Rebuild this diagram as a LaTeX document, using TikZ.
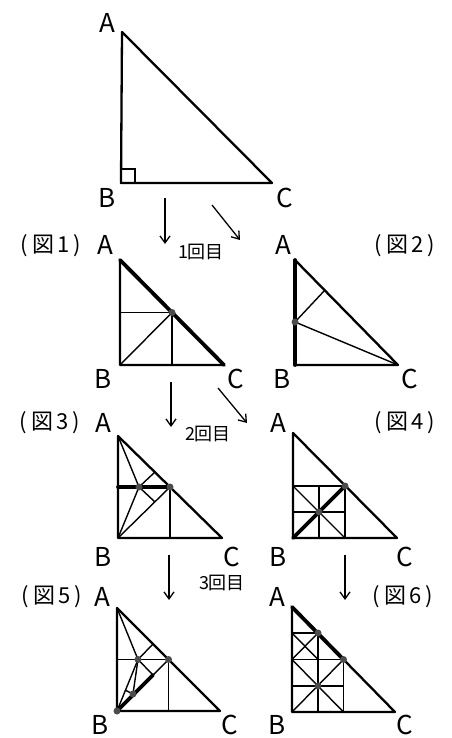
\documentclass[tikz,border=0pt]{standalone}
\usepackage{fontspec}
\setmainfont{Noto Sans CJK JP}
\usetikzlibrary{arrows.meta,calc}

\begin{document}
\begin{tikzpicture}[x=1pt,y=-1pt,>={Straight Barb[length=7pt,width=10pt]},
  outline/.style={line width=2.3pt,line join=round},
  crease/.style={line width=1.4pt},
  fold/.style={line width=3.8pt,line cap=round},
  go/.style={line width=1.3pt,->},
  dot/.style={fill=black!70},
  lab/.style={font=\fontsize{26}{26}\selectfont,inner sep=0pt},
  fig/.style={font=\fontsize{22}{22}\selectfont,inner sep=0pt},
  turn/.style={font=\fontsize{18}{18}\selectfont,inner sep=0pt}]
  \useasboundingbox (0,0) rectangle (451,738);

  % original triangle
  \coordinate (A0) at (122,32);
  \coordinate (B0) at (121,183);
  \coordinate (C0) at (272,183);
  \draw[outline] (A0) -- (B0) -- (C0) -- cycle;
  \draw[crease] (121,169) -- (135,169) -- (135,183);
  \node[lab] (a0) at (107,23) {A};
  \node[lab] (b0) at (107,198) {B};
  \node[lab] (c0) at (285,198) {C};

  % first fold
  \coordinate (s1) at (165,198); \coordinate (e1) at (165,244);
  \coordinate (s2) at (212,205); \coordinate (e2) at (240,240);
  \draw[go] (s1) -- (e1);
  \draw[go] (s2) -- (e2);
  \node[turn] (t1) at (201,252) {1回目};

  % fig 1
  \coordinate (A1) at (120,260);
  \coordinate (B1) at (120,365);
  \coordinate (C1) at (224,365);
  \coordinate (M1) at ($(A1)!0.5!(C1)$);
  \coordinate (P1) at (120,312.5);
  \coordinate (Q1) at (172,365);
  \draw[crease] (P1) -- (M1) -- (Q1);
  \draw[crease] (B1) -- (M1);
  \draw[outline] (A1) -- (B1) -- (C1) -- cycle;
  \draw[fold] (A1) -- (C1);
  \fill[dot] (M1) circle (3.5pt);
  \node[fig] (f1) at (51,246) {(\,図\,1\,)};
  \node[lab] (a1) at (105,245) {A};
  \node[lab] (b1) at (103,379) {B};
  \node[lab] (c1) at (236,379) {C};

  % fig 2
  \coordinate (A2) at (295,260);
  \coordinate (B2) at (295,365);
  \coordinate (C2) at (398,365);
  \coordinate (D2) at (295,322);
  \coordinate (H2) at (325,290);
  \draw[crease] (D2) -- (C2);
  \draw[crease] (D2) -- (H2);
  \draw[outline] (A2) -- (B2) -- (C2) -- cycle;
  \draw[fold] (A2) -- (B2);
  \fill[dot] (D2) circle (3.5pt);
  \node[fig] (f2) at (405,246) {(\,図\,2\,)};
  \node[lab] (a2) at (283,245) {A};
  \node[lab] (b2) at (282,379) {B};
  \node[lab] (c2) at (410,379) {C};

  % second fold
  \coordinate (s3) at (171,382); \coordinate (e3) at (171,427);
  \coordinate (s4) at (218,388); \coordinate (e4) at (247,423);
  \draw[go] (s3) -- (e3);
  \draw[go] (s4) -- (e4);
  \node[turn] (t2) at (208,434) {2回目};

  % fig 3
  \coordinate (A3) at (118,436);
  \coordinate (B3) at (118,538);
  \coordinate (C3) at (222,538);
  \coordinate (M3) at (170,487);
  \coordinate (P3) at (118,487);
  \coordinate (Q3) at (170,538);
  \coordinate (E3) at (139,487);
  \coordinate (K3) at (155,472);
  \coordinate (G3) at (155,502);
  \draw[crease] (M3) -- (Q3);
  \draw[crease] (B3) -- (M3);
  \draw[crease] (A3) -- (E3) -- (B3);
  \draw[crease] (K3) -- (E3) -- (G3);
  \draw[outline] (A3) -- (B3) -- (C3) -- cycle;
  \draw[fold] (P3) -- (M3);
  \fill[dot] (E3) circle (3.5pt);
  \fill[dot] (M3) circle (3.5pt);
  \node[fig] (f3) at (50,423) {(\,図\,3\,)};
  \node[lab] (a3) at (103,423) {A};
  \node[lab] (b3) at (103,557) {B};
  \node[lab] (c3) at (232,557) {C};

  % fig 4
  \coordinate (A4) at (293,433);
  \coordinate (B4) at (293,538);
  \coordinate (C4) at (397,538);
  \coordinate (M4) at (345,486);
  \coordinate (P4) at (293,486);
  \coordinate (Q4) at (345,538);
  \coordinate (O4) at (319,512);
  \draw[crease] (P4) -- (M4) -- (Q4);
  \draw[crease] (P4) -- (Q4);
  \draw[crease] (319,486) -- (319,538);
  \draw[crease] (293,512) -- (345,512);
  \draw[outline] (A4) -- (B4) -- (C4) -- cycle;
  \draw[fold] (B4) -- (M4);
  \fill[dot] (O4) circle (3.5pt);
  \fill[dot] (M4) circle (3.5pt);
  \node[fig] (f4) at (405,423) {(\,図\,4\,)};
  \node[lab] (a4) at (278,423) {A};
  \node[lab] (b4) at (278,557) {B};
  \node[lab] (c4) at (405,557) {C};

  % third fold
  \coordinate (s5) at (169,555); \coordinate (e5) at (169,600);
  \coordinate (s6) at (345,555); \coordinate (e6) at (345,600);
  \draw[go] (s5) -- (e5);
  \draw[go] (s6) -- (e6);
  \node[turn] (t3) at (222,583) {3回目};

  % fig 5
  \coordinate (A5) at (117,608);
  \coordinate (B5) at (117,711);
  \coordinate (C5) at (220,711);
  \coordinate (M5) at (168.5,659.5);
  \coordinate (P5) at (117,659.5);
  \coordinate (Q5) at (168.5,711);
  \coordinate (E5) at (138,659.5);
  \coordinate (K5) at (153,644);
  \coordinate (G5) at (153,675);
  \coordinate (F5) at (133,694);
  \coordinate (H5) at (125,690);
  \draw[crease] (P5) -- (M5) -- (Q5);
  \draw[crease] (M5) -- (G5);
  \draw[crease] (A5) -- (E5) -- (B5);
  \draw[crease] (K5) -- (E5) -- (G5);
  \draw[crease] (E5) -- (F5) -- (H5);
  \draw[outline] (A5) -- (B5) -- (C5) -- cycle;
  \draw[fold] (G5) -- (B5);
  \fill[dot] (E5) circle (3.5pt);
  \fill[dot] (M5) circle (3.5pt);
  \fill[dot] (F5) circle (3.5pt);
  \fill[dot] (B5) circle (3.5pt);
  \node[fig] (f5) at (52,597) {(\,図\,5\,)};
  \node[lab] (a5) at (102,597) {A};
  \node[lab] (b5) at (100,725) {B};
  \node[lab] (c5) at (230,725) {C};

  % fig 6
  \coordinate (A6) at (292,607);
  \coordinate (B6) at (292,712);
  \coordinate (C6) at (395,712);
  \coordinate (M6) at (343.5,659.5);
  \coordinate (P6) at (292,659.5);
  \coordinate (Q6) at (343.5,712);
  \coordinate (N6) at (318,633);
  \coordinate (R6) at (292,633);
  \coordinate (S6) at (318,659.5);
  \coordinate (O6) at (318,686);
  \draw[crease] (R6) -- (N6) -- (318,712);
  \draw[crease] (P6) -- (N6);
  \draw[crease] (R6) -- (S6);
  \draw[crease] (P6) -- (M6) -- (Q6);
  \draw[crease] (292,686) -- (343.5,686);
  \draw[crease] (B6) -- (M6);
  \draw[crease] (P6) -- (Q6);
  \draw[outline] (A6) -- (B6) -- (C6) -- cycle;
  \draw[fold] (A6) -- (M6);
  \fill[dot] (N6) circle (3.5pt);
  \fill[dot] (M6) circle (3.5pt);
  \fill[dot] (O6) circle (3.5pt);
  \node[fig] (f6) at (403,597) {(\,図\,6\,)};
  \node[lab] (a6) at (277,597) {A};
  \node[lab] (b6) at (277,725) {B};
  \node[lab] (c6) at (405,725) {C};
\end{tikzpicture}
\end{document}
